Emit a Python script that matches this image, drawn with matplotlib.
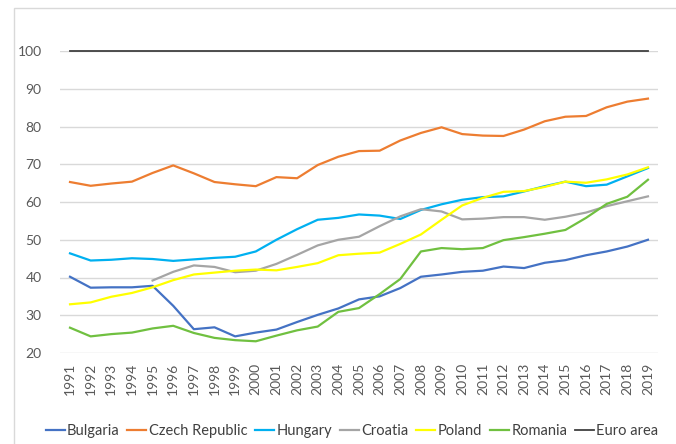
import numpy as np
import matplotlib
matplotlib.use("Agg")
from matplotlib import pyplot as plt
from matplotlib.patches import Rectangle

years = list(range(1991, 2020))

bulgaria = [40.2, 37.3, 37.4, 37.4, 37.8, 32.5, 26.3, 26.8, 24.4, 25.4,
            26.2, 28.2, 30.1, 31.8, 34.2, 35.0, 37.2, 40.2, 40.8, 41.5,
            41.8, 42.9, 42.5, 43.9, 44.6, 45.9, 46.9, 48.2, 50.0]
czech = [65.3, 64.3, 64.9, 65.4, 67.7, 69.7, 67.6, 65.3, 64.7, 64.2,
         66.6, 66.3, 69.8, 72.0, 73.5, 73.6, 76.3, 78.3, 79.8, 78.0,
         77.6, 77.5, 79.2, 81.4, 82.6, 82.8, 85.1, 86.6, 87.4]
hungary = [46.4, 44.5, 44.7, 45.1, 44.9, 44.4, 44.8, 45.2, 45.5, 46.9,
           50.0, 52.8, 55.3, 55.8, 56.7, 56.4, 55.5, 57.9, 59.4, 60.6,
           61.3, 61.5, 62.8, 64.2, 65.4, 64.2, 64.6, 66.8, 69.0]
# Croatia series starts in 1995
croatia = [np.nan] * 4 + [39.2, 41.5, 43.2, 42.8, 41.4, 41.8, 43.6, 46.0,
                          48.5, 50.0, 50.8, 53.6, 56.2, 58.1, 57.5, 55.4,
                          55.6, 56.0, 56.0, 55.3, 56.1, 57.2, 58.9, 60.2, 61.5]
poland = [32.9, 33.4, 34.9, 35.9, 37.4, 39.3, 40.8, 41.3, 41.8, 42.1,
          41.9, 42.8, 43.8, 45.9, 46.3, 46.6, 48.9, 51.4, 55.3, 59.1,
          61.1, 62.7, 62.9, 64.0, 65.4, 65.1, 66.0, 67.3, 69.2]
romania = [26.7, 24.4, 25.0, 25.4, 26.5, 27.2, 25.3, 24.0, 23.4, 23.1,
           24.6, 26.0, 27.0, 30.9, 31.9, 35.6, 39.6, 46.9, 47.8, 47.5,
           47.8, 49.9, 50.7, 51.6, 52.6, 55.8, 59.5, 61.4, 65.9]
euro_area = [100] * len(years)

series = [("Bulgaria", bulgaria, "#4472c4", 1.6),
          ("Czech Republic", czech, "#ed7d31", 1.6),
          ("Hungary", hungary, "#00b0f0", 1.6),
          ("Croatia", croatia, "#a5a5a5", 1.6),
          ("Poland", poland, "#ffff00", 1.6),
          ("Romania", romania, "#70c040", 1.6),
          ("Euro area", euro_area, "#404040", 1.3)]

plt.rcParams['font.family'] = ['Lato', 'DejaVu Sans']

fig = plt.figure(figsize=(6.76, 4.44), dpi=100)
ax = fig.add_axes([0.0883, 0.205, 0.8855, 0.680])

# chart border (Excel style)
fig.patches.append(Rectangle((14 / 676, -0.1), 1.2, 1 - 8 / 444 + 0.1,
                             transform=fig.transFigure, fill=False,
                             edgecolor="#d9d9d9", linewidth=1))

for name, vals, col, lw in series:
    ax.plot(years, vals, color=col, linewidth=lw, label=name,
            clip_on=False, zorder=3)

ax.set_xlim(1990.5, 2019.5)
ax.set_ylim(20, 100)
ax.set_yticks(range(20, 101, 10))
ax.set_xticks(years)
ax.set_xticklabels([str(y) for y in years], rotation=90)
ax.grid(axis="y", color="#d9d9d9", linewidth=1)
ax.set_axisbelow(True)
for s in ax.spines.values():
    s.set_visible(False)
ax.tick_params(length=0, colors="#595959", labelsize=10)
ax.tick_params(axis="y", pad=13)
ax.tick_params(axis="x", pad=7)

fig.legend(loc="center", bbox_to_anchor=(352 / 676, 1 - 431 / 444), ncol=7,
           frameon=False, fontsize=10.5, handlelength=1.3, handletextpad=0.15,
           columnspacing=0.55, labelcolor="#404040")

fig.savefig("out.png", dpi=100)
